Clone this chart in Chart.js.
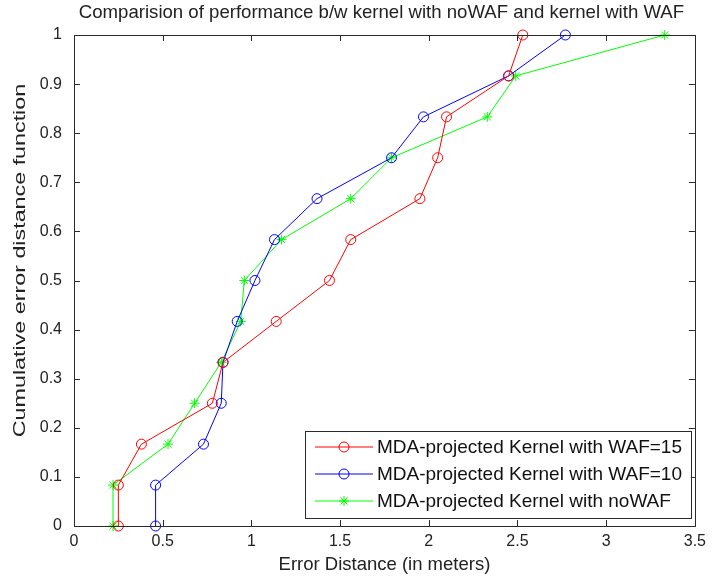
<!DOCTYPE html>
<html lang="en">
<head>
    <meta charset="UTF-8">
    <title>Error distance CDF</title>
    <script src="https://cdn.jsdelivr.net/npm/chart.js"></script>
    <style>
        html, body { margin: 0; padding: 0; background: #fff; }
        canvas { display: block; }
    </style>
</head>
<body>
    <canvas id="grafico" width="712" height="580"></canvas>

    <script>
        // cumulative levels shared by all three curves
        const cdfLevels = [0, 0.0833, 0.1667, 0.25, 0.3333, 0.4167, 0.5, 0.5833, 0.6667, 0.75, 0.8333, 0.9167, 1];

        // error distance (m) for each level
        const waf15Errors = [0.25, 0.25, 0.38, 0.78, 0.84, 1.14, 1.44, 1.56, 1.95, 2.05, 2.10, 2.45, 2.53];
        const waf10Errors = [0.46, 0.46, 0.73, 0.83, 0.84, 0.92, 1.02, 1.13, 1.37, 1.79, 1.97, 2.45, 2.77];
        const noWafErrors = [0.22, 0.22, 0.53, 0.68, 0.83, 0.94, 0.96, 1.17, 1.56, 1.79, 2.33, 2.49, 3.33];

        const seriesNames = [
            'MDA-projected Kernel with WAF=15',
            'MDA-projected Kernel with WAF=10',
            'MDA-projected Kernel with noWAF'
        ];

        const xTicks = [0, 0.5, 1, 1.5, 2, 2.5, 3, 3.5];
        const yTicks = [0, 0.1, 0.2, 0.3, 0.4, 0.5, 0.6, 0.7, 0.8, 0.9, 1];

        const tituloTexto = 'Comparision of performance b/w kernel with noWAF and kernel with WAF';
        const eixoXTexto = 'Error Distance (in meters)';
        const eixoYTexto = 'Cumulative error distance function';

        const fonte = 'Liberation Sans, Arial, sans-serif';
        const corTexto = '#222';

        function pares(xs) {
            return xs.map((x, i) => ({ x: x, y: cdfLevels[i] }));
        }

        function serie(nome, xs, cor, estilo, raio) {
            return {
                label: nome,
                data: pares(xs),
                showLine: true,
                borderColor: cor,
                backgroundColor: 'transparent',
                borderWidth: 1,
                pointStyle: estilo,
                pointRadius: raio,
                pointBorderColor: cor,
                pointBorderWidth: 1,
                pointBackgroundColor: 'transparent',
                clip: false
            };
        }

        // box round the axes with inward ticks on all four sides
        const moldura = {
            id: 'moldura',
            afterDraw(chart) {
                const { ctx, chartArea: a, scales } = chart;
                const tam = 6;
                ctx.save();
                ctx.strokeStyle = '#2a2a2a';
                ctx.lineWidth = 1;
                ctx.beginPath();
                xTicks.forEach(v => {
                    const px = Math.round(scales.x.getPixelForValue(v)) + 0.5;
                    ctx.moveTo(px, a.bottom); ctx.lineTo(px, a.bottom - tam);
                    ctx.moveTo(px, a.top); ctx.lineTo(px, a.top + tam);
                });
                yTicks.forEach(v => {
                    const py = Math.round(scales.y.getPixelForValue(v)) + 0.5;
                    ctx.moveTo(a.left, py); ctx.lineTo(a.left + tam, py);
                    ctx.moveTo(a.right, py); ctx.lineTo(a.right - tam, py);
                });
                ctx.stroke();
                ctx.strokeRect(Math.round(a.left) + 0.5, Math.round(a.top) + 0.5,
                    Math.round(a.right - a.left), Math.round(a.bottom - a.top));
                ctx.restore();
            }
        };

        // title and axis titles; the y title is drawn a bit stretched along its length
        const textos = {
            id: 'textos',
            afterDraw(chart) {
                const { ctx, chartArea: a } = chart;
                const meioX = (a.left + a.right) / 2;
                const meioY = (a.top + a.bottom) / 2;
                ctx.save();
                ctx.fillStyle = corTexto;
                ctx.textAlign = 'center';
                ctx.textBaseline = 'middle';

                ctx.font = '18.6px ' + fonte;
                ctx.fillText(tituloTexto, meioX - 3, 13);

                ctx.font = '18.5px ' + fonte;
                ctx.fillText(eixoXTexto, meioX, 565);

                ctx.translate(20, meioY - 20);
                ctx.rotate(-Math.PI / 2);
                ctx.scale(1.37, 1);
                ctx.font = '17px ' + fonte;
                ctx.fillText(eixoYTexto, 0, 0);
                ctx.restore();
            }
        };

        // legend box in the lower right corner
        const legenda = {
            id: 'legenda',
            afterDraw(chart) {
                const { ctx } = chart;
                const caixa = { x: 305, y: 431, w: 386, h: 87 };
                ctx.save();
                ctx.fillStyle = '#fff';
                ctx.fillRect(caixa.x, caixa.y, caixa.w, caixa.h);
                ctx.strokeStyle = '#2a2a2a';
                ctx.lineWidth = 1;
                ctx.strokeRect(caixa.x + 0.5, caixa.y + 0.5, caixa.w, caixa.h);
                ctx.font = '19px ' + fonte;
                ctx.textBaseline = 'middle';
                ctx.textAlign = 'left';
                chart.data.datasets.forEach((ds, i) => {
                    const y = caixa.y + 16 + i * 27;
                    ctx.strokeStyle = ds.borderColor;
                    ctx.fillStyle = 'rgba(0,0,0,0)';
                    ctx.lineWidth = 1;
                    ctx.beginPath();
                    ctx.moveTo(caixa.x + 10, y);
                    ctx.lineTo(caixa.x + 68, y);
                    ctx.stroke();
                    Chart.helpers.drawPoint(ctx, {
                        pointStyle: ds.pointStyle,
                        radius: ds.pointRadius,
                        borderWidth: 1,
                        rotation: 0
                    }, caixa.x + 39, y);
                    ctx.fillStyle = '#111';
                    ctx.fillText(ds.label, caixa.x + 72, y + 1);
                });
                ctx.restore();
            }
        };

        new Chart(document.getElementById('grafico'), {
            type: 'scatter',
            data: {
                datasets: [
                    serie(seriesNames[0], waf15Errors, '#ff0000', 'circle', 5),
                    serie(seriesNames[1], waf10Errors, '#0000ff', 'circle', 5),
                    serie(seriesNames[2], noWafErrors, '#00ff00', 'star', 5)
                ]
            },
            options: {
                responsive: false,
                animation: false,
                layout: { padding: { left: 0, right: 13, top: 35, bottom: 0 } },
                plugins: {
                    legend: { display: false },
                    tooltip: { enabled: false },
                    title: { display: false }
                },
                scales: {
                    x: {
                        type: 'linear',
                        min: 0,
                        max: 3.5,
                        afterBuildTicks: s => { s.ticks = xTicks.map(v => ({ value: v })); },
                        afterFit: s => { s.height = 54; },
                        grid: { display: false, drawTicks: false },
                        border: { display: false },
                        ticks: {
                            color: corTexto,
                            padding: 6,
                            maxRotation: 0,
                            font: { family: fonte, size: 16 },
                            callback: v => String(v)
                        }
                    },
                    y: {
                        min: 0,
                        max: 1,
                        afterBuildTicks: s => { s.ticks = yTicks.map(v => ({ value: v })); },
                        afterFit: s => { s.width = 74; },
                        grid: { display: false, drawTicks: false },
                        border: { display: false },
                        ticks: {
                            color: corTexto,
                            padding: 12,
                            font: { family: fonte, size: 16 },
                            callback: v => String(v)
                        }
                    }
                }
            },
            plugins: [moldura, textos, legenda]
        });
    </script>
</body>
</html>
